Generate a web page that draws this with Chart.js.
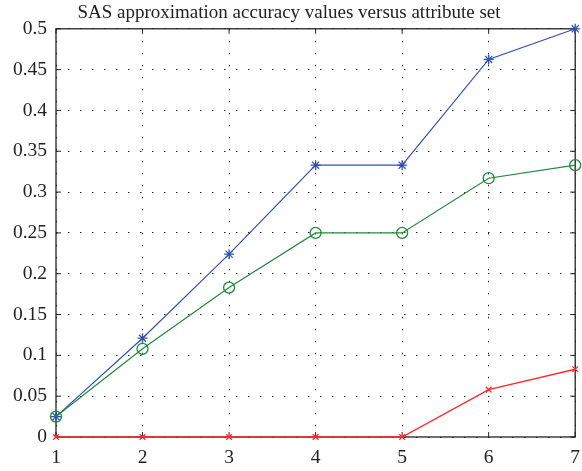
<!DOCTYPE html>
<html>
<head>
<meta charset="utf-8">
<script src="https://cdn.jsdelivr.net/npm/chart.js@4/dist/chart.umd.min.js"></script>
<style>
  html, body { margin: 0; padding: 0; background: #fff; }
  #wrap { width: 582px; height: 471px; }
</style>
</head>
<body>
<div id="wrap"><canvas id="c" width="582" height="471"></canvas></div>
<script>
const attributeSets = [1, 2, 3, 4, 5, 6, 7];
const blueValues = [0.025, 0.121, 0.224, 0.333, 0.333, 0.4625, 0.5];
const greenValues = [0.025, 0.108, 0.183, 0.25, 0.25, 0.317, 0.333];
const redValues = [0, 0, 0, 0, 0, 0.058, 0.083];
const yTicks = [0, 0.05, 0.1, 0.15, 0.2, 0.25, 0.3, 0.35, 0.4, 0.45, 0.5];

const toPoints = vals => vals.map((v, i) => ({ x: attributeSets[i], y: v }));

// box frame + inward tick marks, like the matlab figure
const framePlugin = {
  id: 'frame',
  beforeDatasetsDraw(chart) {
    const { ctx, chartArea: a, scales } = chart;
    ctx.save();
    ctx.strokeStyle = '#222';
    ctx.lineWidth = 1.3;
    ctx.strokeRect(a.left, a.top, a.right - a.left, a.bottom - a.top);
    ctx.lineWidth = 1;
    ctx.beginPath();
    attributeSets.forEach(v => {
      const px = scales.x.getPixelForValue(v);
      ctx.moveTo(px, a.bottom); ctx.lineTo(px, a.bottom - 5);
      ctx.moveTo(px, a.top); ctx.lineTo(px, a.top + 5);
    });
    yTicks.forEach(v => {
      const py = scales.y.getPixelForValue(v);
      ctx.moveTo(a.left, py); ctx.lineTo(a.left + 5, py);
      ctx.moveTo(a.right, py); ctx.lineTo(a.right - 5, py);
    });
    ctx.stroke();
    ctx.restore();
  }
};

const font = { family: "'Liberation Serif', 'DejaVu Serif', serif", size: 19.5 };

new Chart(document.getElementById('c'), {
  type: 'line',
  data: {
    datasets: [
      {
        data: toPoints(redValues),
        borderColor: '#ff2a2a',
        borderWidth: 1.4,
        pointStyle: 'crossRot',
        pointRadius: 4,
        pointBorderColor: '#ff2a2a',
        pointBorderWidth: 1.3,
        clip: false
      },
      {
        data: toPoints(greenValues),
        borderColor: '#1f8a3c',
        borderWidth: 1.2,
        pointStyle: 'circle',
        pointRadius: 5.5,
        pointBackgroundColor: 'rgba(0,0,0,0)',
        pointBorderColor: '#1f8a3c',
        pointBorderWidth: 1.3,
        clip: false
      },
      {
        data: toPoints(blueValues),
        borderColor: '#3352b0',
        borderWidth: 1.2,
        pointStyle: 'star',
        pointRadius: 5,
        pointBorderColor: '#3352b0',
        pointBorderWidth: 1.3,
        clip: false
      }
    ]
  },
  options: {
    responsive: false,
    animation: false,
    layout: { padding: { left: 0, right: 4, top: 0, bottom: 0 } },
    plugins: {
      legend: { display: false },
      tooltip: { enabled: false },
      title: {
        display: true,
        text: 'SAS approximation accuracy values versus attribute set',
        color: '#222',
        font: { family: font.family, size: 19, weight: 'normal' },
        padding: { top: 2, bottom: 4 }
      }
    },
    scales: {
      x: {
        type: 'linear',
        min: 1,
        max: 7,
        afterBuildTicks: s => { s.ticks = attributeSets.map(v => ({ value: v })); },
        afterFit: s => { s.height = 34; s.paddingLeft = 0; s.paddingRight = 0; },
        ticks: { color: '#222', font: font, padding: 9 },
        grid: { color: '#222', lineWidth: 1, drawTicks: false },
        border: { display: false, dash: [1.5, 10.5] }
      },
      y: {
        min: 0,
        max: 0.5,
        afterBuildTicks: s => { s.ticks = yTicks.map(v => ({ value: v })); },
        afterFit: s => { s.width = 56; },
        ticks: { color: '#222', font: font, padding: 9, callback: v => String(+v.toFixed(2)) },
        grid: { color: '#222', lineWidth: 1, drawTicks: false },
        border: { display: false, dash: [1.5, 10.5] }
      }
    }
  },
  plugins: [framePlugin]
});
</script>
</body>
</html>
